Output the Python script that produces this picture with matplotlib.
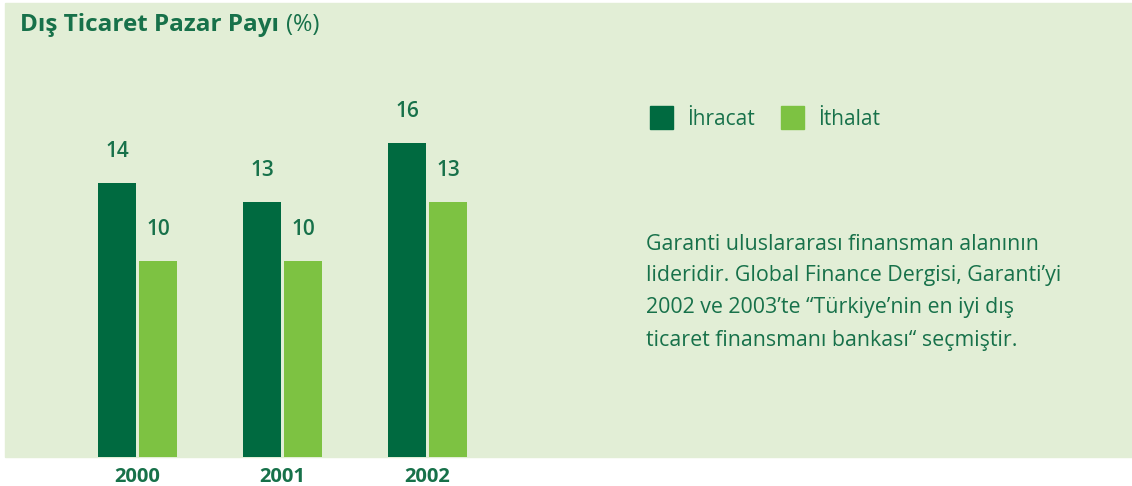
import matplotlib.pyplot as plt
import numpy as np
from matplotlib.patches import Rectangle

# data
years = ['2000', '2001', '2002']
ihracat = [14, 13, 16]
ithalat = [10, 10, 13]
series_names = ['İhracat', 'İthalat']

dark = '#006a40'
light = '#7dc242'
bg = '#e2eed6'
txt = '#17714a'

plt.rcParams['font.family'] = ['Open Sans', 'DejaVu Sans']

W, H = 1132, 486
fig = plt.figure(figsize=(W / 100, H / 100), dpi=100)

# light green panel
fig.patches.append(Rectangle((5 / W, (H - 457) / H), (W - 5) / W, 454 / H,
                             transform=fig.transFigure, color=bg, zorder=0))

# bar axes, laid out in pixels
left, right, top, bottom = 5, 600, 3, 457
ax = fig.add_axes([left / W, (H - bottom) / H, (right - left) / W, (bottom - top) / H])
ax.set_zorder(2)
ax.set_facecolor('none')
gap = 145
ax.set_xlim((left - 137.5) / gap, (right - 137.5) / gap)
ax.set_ylim(0, (bottom - top) / 19.6)

x = np.arange(len(years))
w = 38 / gap
off = 20.5 / gap
b1 = ax.bar(x - off, ihracat, w, color=dark)
b2 = ax.bar(x + off, ithalat, w, color=light)
for bars, vals in [(b1, ihracat), (b2, ithalat)]:
    for r, v in zip(bars, vals):
        ax.annotate(str(v), (r.get_x() + r.get_width() / 2, r.get_height()),
                    xytext=(0, 21), textcoords='offset pixels', ha='center', va='bottom',
                    fontsize=15, color=txt, fontweight='semibold')

ax.set_xticks(x)
ax.set_xticklabels(years, fontsize=14.5, fontweight='bold', color=txt)
ax.tick_params(axis='x', length=0, pad=7)
ax.set_yticks([])
for s in ax.spines.values():
    s.set_visible(False)

# title
fig.text(20 / W, 1 - 25 / H, 'Dış Ticaret Pazar Payı', fontsize=17.5, fontweight='bold',
         color=txt, va='center')
fig.text(286 / W, 1 - 25 / H, '(%)', fontsize=17, color=txt, va='center')

# legend
for i, (name, c) in enumerate(zip(series_names, [dark, light])):
    x0 = 650 + i * 131
    fig.patches.append(Rectangle((x0 / W, 1 - 129 / H), 23 / W, 23 / H,
                                 transform=fig.transFigure, color=c, zorder=3))
    fig.text((x0 + 37) / W, 1 - 119 / H, name, fontsize=15, color=txt, va='center')

# paragraph
lines = ['Garanti uluslararası finansman alanının',
         'lideridir. Global Finance Dergisi, Garanti’yi',
         '2002 ve 2003’te “Türkiye’nin en iyi dış',
         'ticaret finansmanı bankası“ seçmiştir.']
for i, l in enumerate(lines):
    fig.text(646 / W, 1 - (244 + i * 32) / H, l, fontsize=15.4, color=txt, va='center')

fig.savefig('out.png', dpi=100)
